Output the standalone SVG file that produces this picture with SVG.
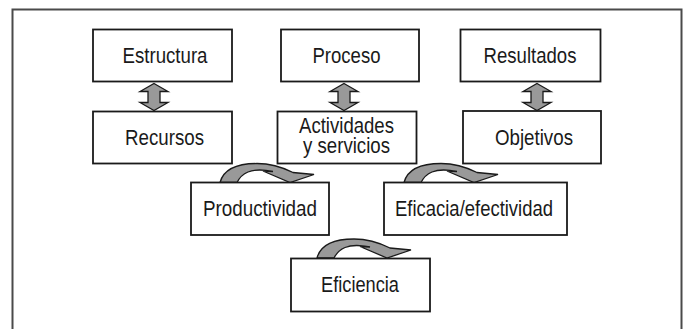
<svg xmlns="http://www.w3.org/2000/svg" xmlns:xlink="http://www.w3.org/1999/xlink" width="685" height="329" viewBox="0 0 685 329">
<style>
.box{fill:#fff;stroke:#1a1a1a;stroke-width:1.8}
.frame{fill:none;stroke:#4a4a4a;stroke-width:2}
.lbl{font-family:"Liberation Sans",Arial,sans-serif;font-size:22px;fill:#1a1a1a;text-anchor:middle}
.arr{fill:#999;stroke:#1a1a1a;stroke-width:1.3;stroke-linejoin:miter}
</style>
<defs>
<path id="dbl" d="M0,0 L14,8 L6,8 L6,19 L14,19 L0,27 L-14,19 L-6,19 L-6,8 L-14,8 Z"/>
<path id="crv" d="M0,0 C4,-15 20,-19 37,-19 C52,-19 63,-15 73,-10 L94,-8 L70,0 L43,-11.5 L53,-11 C43,-13 34,-13 28,-10.5 C22,-8 19,-4 17,0 Z"/>
</defs>
<path class="frame" d="M12.5,329 L12.5,9.5 L681.5,9.5 L681.5,329"/>
<g id="connectors">
<use href="#dbl" class="arr" x="154" y="83.5"/>
<use href="#dbl" class="arr" x="344" y="83.5"/>
<use href="#dbl" class="arr" x="537" y="83.5"/>
<use href="#crv" class="arr" x="220" y="182.5"/>
<use href="#crv" class="arr" x="404" y="182.5"/>
<use href="#crv" class="arr" x="317" y="258"/>
</g>
<g id="estructura"><rect class="box" x="93" y="29.5" width="139" height="52"/><text class="lbl" x="165" y="62.5" textLength="85" lengthAdjust="spacingAndGlyphs">Estructura</text></g>
<g id="proceso"><rect class="box" x="281" y="29.5" width="138" height="52"/><text class="lbl" x="346.5" y="62.5" textLength="68" lengthAdjust="spacingAndGlyphs">Proceso</text></g>
<g id="resultados"><rect class="box" x="460.5" y="29.5" width="140" height="52"/><text class="lbl" x="530" y="62.5" textLength="93" lengthAdjust="spacingAndGlyphs">Resultados</text></g>
<g id="recursos"><rect class="box" x="93" y="111.5" width="139" height="52"/><text class="lbl" x="164.5" y="145" textLength="79" lengthAdjust="spacingAndGlyphs">Recursos</text></g>
<g id="actividades"><rect class="box" x="277.5" y="111.5" width="139" height="52"/><text class="lbl" x="346.5" y="133" textLength="95" lengthAdjust="spacingAndGlyphs">Actividades</text><text class="lbl" x="346.5" y="153" textLength="87" lengthAdjust="spacingAndGlyphs">y servicios</text></g>
<g id="objetivos"><rect class="box" x="463" y="111" width="138" height="52.5"/><text class="lbl" x="534" y="145" textLength="78" lengthAdjust="spacingAndGlyphs">Objetivos</text></g>
<g id="productividad"><rect class="box" x="191" y="182.5" width="138" height="52.5"/><text class="lbl" x="260" y="215.5" textLength="114" lengthAdjust="spacingAndGlyphs">Productividad</text></g>
<g id="eficacia"><rect class="box" x="384" y="182.5" width="183" height="52.5"/><text class="lbl" x="474" y="215.5" textLength="158" lengthAdjust="spacingAndGlyphs">Eficacia/efectividad</text></g>
<g id="eficiencia"><rect class="box" x="291" y="258.5" width="139" height="53"/><text class="lbl" x="360" y="291.5" textLength="78" lengthAdjust="spacingAndGlyphs">Eficiencia</text></g>
</svg>
